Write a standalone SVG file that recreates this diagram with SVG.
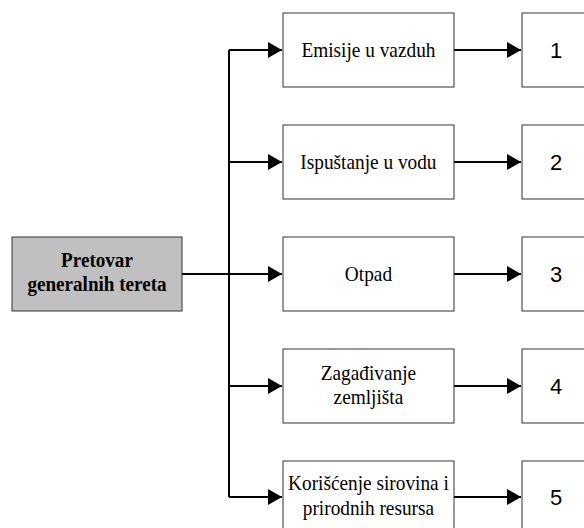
<svg xmlns="http://www.w3.org/2000/svg" width="584" height="528" viewBox="0 0 584 528">
<defs>
<style>
.box{fill:#ffffff;stroke:#333333;stroke-width:1}
.src{fill:#c0c0c0;stroke:#333333;stroke-width:1}
.t{font-family:"Liberation Serif","Times New Roman",serif;font-size:21px;fill:#000;text-anchor:middle}
.b{font-weight:bold}
.n{font-family:"Liberation Sans",Arial,sans-serif;font-size:22px;fill:#000;text-anchor:middle}
.c{fill:none;stroke:#000;stroke-width:2}
</style>
<marker id="ah" markerUnits="userSpaceOnUse" markerWidth="15" markerHeight="17" refX="14" refY="8" orient="auto" viewBox="0 0 15 17">
<path d="M0,0 L14,8 L0,16 Z" fill="#000"/>
</marker>
</defs>
<rect width="584" height="528" fill="#ffffff"/>
<g id="connectors">
<path class="c" d="M182,274 H282"/>
<path class="c" d="M229,50 V497"/>
<path class="c" d="M229,50 H282" marker-end="url(#ah)"/>
<path class="c" d="M229,162 H282" marker-end="url(#ah)"/>
<path class="c" d="M229,274 H282" marker-end="url(#ah)"/>
<path class="c" d="M229,386 H282" marker-end="url(#ah)"/>
<path class="c" d="M229,497 H282" marker-end="url(#ah)"/>
<path class="c" d="M454,50 H521" marker-end="url(#ah)"/>
<path class="c" d="M454,162 H521" marker-end="url(#ah)"/>
<path class="c" d="M454,274 H521" marker-end="url(#ah)"/>
<path class="c" d="M454,386 H521" marker-end="url(#ah)"/>
<path class="c" d="M454,497 H521" marker-end="url(#ah)"/>
</g>
<g id="source">
<rect class="src" x="12" y="237" width="170" height="74"/>
<text class="t b" transform="scale(0.91 1)" x="106.6" y="267">Pretovar</text>
<text class="t b" transform="scale(0.91 1)" x="106.6" y="291">generalnih tereta</text>
</g>
<g id="m1">
<rect class="box" x="283" y="13" width="171" height="74"/>
<text class="t" transform="scale(0.92 1)" x="400.5" y="57.5">Emisije u vazduh</text>
</g>
<g id="m2">
<rect class="box" x="283" y="125" width="171" height="74"/>
<text class="t" transform="scale(0.92 1)" x="400.5" y="169.5">Ispuštanje u vodu</text>
</g>
<g id="m3">
<rect class="box" x="283" y="237" width="171" height="74"/>
<text class="t" transform="scale(0.92 1)" x="400.5" y="281.5">Otpad</text>
</g>
<g id="m4">
<rect class="box" x="283" y="349" width="171" height="74"/>
<text class="t" transform="scale(0.92 1)" x="400.5" y="380">Zagađivanje</text>
<text class="t" transform="scale(0.92 1)" x="400.5" y="404">zemljišta</text>
</g>
<g id="m5">
<rect class="box" x="283" y="461" width="171" height="74"/>
<text class="t" transform="scale(0.92 1)" x="400.5" y="490">Korišćenje sirovina i</text>
<text class="t" transform="scale(0.92 1)" x="400.5" y="515">prirodnih resursa</text>
</g>
<g id="r1">
<rect class="box" x="522" y="13" width="70" height="74"/>
<text class="n" x="556" y="58">1</text>
</g>
<g id="r2">
<rect class="box" x="522" y="125" width="70" height="74"/>
<text class="n" x="556" y="170">2</text>
</g>
<g id="r3">
<rect class="box" x="522" y="237" width="70" height="74"/>
<text class="n" x="556" y="282">3</text>
</g>
<g id="r4">
<rect class="box" x="522" y="349" width="70" height="74"/>
<text class="n" x="556" y="394">4</text>
</g>
<g id="r5">
<rect class="box" x="522" y="461" width="70" height="74"/>
<text class="n" x="556" y="505">5</text>
</g>
</svg>
